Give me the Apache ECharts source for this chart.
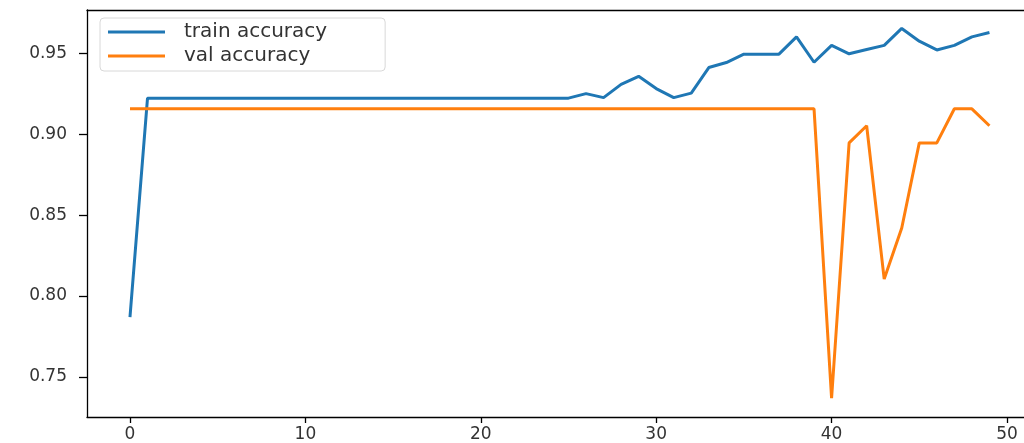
<!DOCTYPE html>
<html>
<head>
<meta charset="utf-8">
<script src="https://cdn.jsdelivr.net/npm/echarts@6/dist/echarts.min.js"></script>
<style>html,body{margin:0;padding:0;background:#fff}#c{width:1024px;height:443px}</style>
</head>
<body>
<div id="c"></div>
<script>
const epochs = Array.from({length: 50}, (_, i) => i);
const trainAcc = [0.787,
  0.9224,0.9224,0.9224,0.9224,0.9224,0.9224,0.9224,0.9224,0.9224,0.9224,
  0.9224,0.9224,0.9224,0.9224,0.9224,0.9224,0.9224,0.9224,0.9224,0.9224,
  0.9224,0.9224,0.9224,0.9224,0.9224,
  0.9252,0.9227,0.9309,0.9359,0.9283,0.9227,0.9255,0.9413,0.9444,0.9496,
  0.9496,0.9496,0.9603,0.9446,0.955,0.9498,0.9525,0.955,0.9655,0.9576,
  0.9522,0.955,0.9603,0.963];
const valAcc = [
  0.9158,0.9158,0.9158,0.9158,0.9158,0.9158,0.9158,0.9158,0.9158,0.9158,
  0.9158,0.9158,0.9158,0.9158,0.9158,0.9158,0.9158,0.9158,0.9158,0.9158,
  0.9158,0.9158,0.9158,0.9158,0.9158,0.9158,0.9158,0.9158,0.9158,0.9158,
  0.9158,0.9158,0.9158,0.9158,0.9158,0.9158,0.9158,0.9158,0.9158,0.9158,
  0.7368,0.8947,0.9053,0.8105,0.8421,0.8947,0.8947,0.9158,0.9158,0.9053];
const xTicks = [0, 10, 20, 30, 40, 50];
const yTicks = [0.75, 0.80, 0.85, 0.90, 0.95];
const seriesNames = ['train accuracy', 'val accuracy'];

const FONT = 'DejaVu Sans';
const chart = echarts.init(document.getElementById('c'), null, {renderer: 'canvas'});
const xMin = -2.45, xMax = 50.97, yMin = 0.7252, yMax = 0.9769;
chart.setOption({
  animation: false,
  backgroundColor: '#fff',
  grid: {left: 87, right: 0, top: 10, bottom: 26},
  legend: {
    left: 100, top: 18, orient: 'vertical',
    data: seriesNames.map(n => ({name: n, icon: 'rect'})),
    itemWidth: 57, itemHeight: 3, itemGap: 4,
    padding: [4, 58, 5, 8],
    borderColor: '#d8d8d8', borderWidth: 1, borderRadius: 4,
    backgroundColor: 'rgba(255,255,255,0.8)',
    textStyle: {fontFamily: FONT, fontSize: 20, color: '#333', padding: [0, 0, 0, 14]}
  },
  xAxis: [{
    type: 'value', min: xMin, max: xMax,
    axisLine: {show: true, onZero: false, lineStyle: {color: '#000', width: 1.3}},
    axisTick: {show: true, length: 6, customValues: xTicks, lineStyle: {color: '#000', width: 1.3}},
    axisLabel: {customValues: xTicks, margin: 9, fontFamily: FONT, fontSize: 17, color: '#333'},
    splitLine: {show: false}
  }, {
    type: 'value', position: 'top', min: xMin, max: xMax,
    axisLine: {show: true, onZero: false, lineStyle: {color: '#000', width: 1.3}},
    axisTick: {show: false}, axisLabel: {show: false}, splitLine: {show: false}
  }],
  yAxis: {
    type: 'value', min: yMin, max: yMax,
    axisLine: {show: true, onZero: false, lineStyle: {color: '#000', width: 1.3}},
    axisTick: {show: true, length: 8, customValues: yTicks, lineStyle: {color: '#000', width: 1.3}},
    axisLabel: {customValues: yTicks, margin: 20, fontFamily: FONT, fontSize: 17, color: '#333',
      formatter: v => v.toFixed(2)},
    splitLine: {show: false}
  },
  series: [{
    name: seriesNames[0], type: 'line', symbol: 'none',
    data: epochs.map((e, i) => [e, trainAcc[i]]),
    lineStyle: {color: '#1f77b4', width: 3}, itemStyle: {color: '#1f77b4'}
  }, {
    name: seriesNames[1], type: 'line', symbol: 'none',
    data: epochs.map((e, i) => [e, valAcc[i]]),
    lineStyle: {color: '#ff7f0e', width: 3}, itemStyle: {color: '#ff7f0e'}
  }]
});
</script>
</body>
</html>
